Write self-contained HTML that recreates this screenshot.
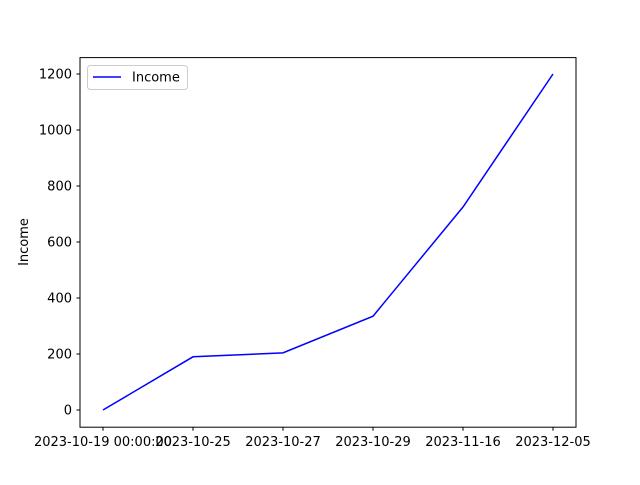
<!DOCTYPE html>
<html><head><meta charset="utf-8"><style>
body{margin:0;background:#fff}
text{font-family:"DejaVu Sans","Liberation Sans",sans-serif;font-size:13px;fill:#000}
</style></head><body>
<svg width="640" height="480">
<rect x="0" y="0" width="640" height="480" fill="#fff"/>
<g id="plot"></g>
<rect x="80" y="57.6" width="496" height="369.6" fill="none" stroke="#000" stroke-width="1"/>
<text x="28" y="242" text-anchor="middle" transform="rotate(-90 28 242)">Income</text>
<g>
<rect x="87.5" y="65.5" width="100" height="24" rx="3" fill="#fff" stroke="#ccc"/>
<line x1="93" y1="77" x2="121" y2="77" stroke="#0000ff" stroke-width="1.5"/>
<text x="132" y="81.5">Income</text>
</g>
</svg>
<script>
const categories=["2023-10-19 00:00:00","2023-10-25","2023-10-27","2023-10-29","2023-11-16","2023-12-05"];
const incomeValues=[0,190,204,335,725,1200];
const yTicks=[0,200,400,600,800,1000,1200];
const NS="http://www.w3.org/2000/svg";
const g=document.getElementById('plot');
function xs(i){return 103+i*90;}
function ys(v){return 410-v*0.28;}
function mk(t,a){const e=document.createElementNS(NS,t);for(const k in a)e.setAttribute(k,a[k]);g.appendChild(e);return e;}
yTicks.forEach(v=>{
  const t=mk('line',{x1:76.5,x2:80,y1:ys(v),y2:ys(v),stroke:'#000'});
  
  
  const l=mk('text',{x:72,y:ys(v)+4.5,'text-anchor':'end'});l.textContent=v;
  
  
});
categories.forEach((c,i)=>{
  const t=mk('line',{x1:xs(i),x2:xs(i),y1:427.2,y2:430.7,stroke:'#000'});
  
  
  const l=mk('text',{x:xs(i),y:446,'text-anchor':'middle'});l.textContent=c;
  
  
});
const p=mk('polyline',{points:incomeValues.map((v,i)=>xs(i)+','+ys(v)).join(' '),fill:'none',stroke:'#0000ff','stroke-width':1.5});


</script>
</body></html>
